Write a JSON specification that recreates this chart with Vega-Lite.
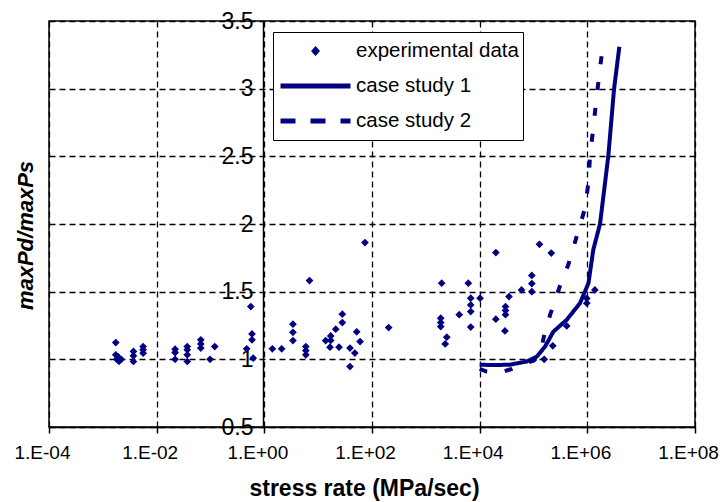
{
  "$schema": "https://vega.github.io/schema/vega-lite/v6.json",
  "width": 646,
  "height": 406,
  "autosize": {"type": "none"},
  "padding": {"left": 49, "top": 21, "right": 27, "bottom": 75},
  "background": "white",
  "config": {
    "font": "Liberation Sans",
    "view": {"stroke": "black", "strokeWidth": 1.5},
    "axis": {
      "gridColor": "black",
      "gridDash": [6, 4],
      "gridWidth": 1.3,
      "gridOpacity": 1,
      "domainColor": "black",
      "domainWidth": 1.5,
      "tickColor": "black",
      "labelColor": "black",
      "titleColor": "black",
      "labelFont": "Liberation Sans",
      "titleFont": "Liberation Sans"
    }
  },
  "data": {
    "values": [
      {"series": "experimental data", "x": 0.00174, "y": 1.124},
      {"series": "experimental data", "x": 0.00174, "y": 1.033},
      {"series": "experimental data", "x": 0.00195, "y": 1.016},
      {"series": "experimental data", "x": 0.00182, "y": 1.0},
      {"series": "experimental data", "x": 0.00219, "y": 1.0},
      {"series": "experimental data", "x": 0.002, "y": 0.985},
      {"series": "experimental data", "x": 0.0037, "y": 1.058},
      {"series": "experimental data", "x": 0.0037, "y": 1.026},
      {"series": "experimental data", "x": 0.0037, "y": 0.984},
      {"series": "experimental data", "x": 0.0056, "y": 1.094},
      {"series": "experimental data", "x": 0.0056, "y": 1.07},
      {"series": "experimental data", "x": 0.0056, "y": 1.045},
      {"series": "experimental data", "x": 0.022, "y": 1.075},
      {"series": "experimental data", "x": 0.022, "y": 1.05},
      {"series": "experimental data", "x": 0.022, "y": 1.0},
      {"series": "experimental data", "x": 0.037, "y": 1.094},
      {"series": "experimental data", "x": 0.037, "y": 1.07},
      {"series": "experimental data", "x": 0.037, "y": 1.033},
      {"series": "experimental data", "x": 0.037, "y": 0.984},
      {"series": "experimental data", "x": 0.066, "y": 1.144},
      {"series": "experimental data", "x": 0.066, "y": 1.114},
      {"series": "experimental data", "x": 0.066, "y": 1.083},
      {"series": "experimental data", "x": 0.098, "y": 1.0},
      {"series": "experimental data", "x": 0.12, "y": 1.094},
      {"series": "experimental data", "x": 0.47, "y": 1.078},
      {"series": "experimental data", "x": 0.56, "y": 1.39},
      {"series": "experimental data", "x": 0.59, "y": 1.188},
      {"series": "experimental data", "x": 0.59, "y": 1.144},
      {"series": "experimental data", "x": 0.62, "y": 1.009},
      {"series": "experimental data", "x": 1.41, "y": 1.078},
      {"series": "experimental data", "x": 2.1, "y": 1.078},
      {"series": "experimental data", "x": 3.4, "y": 1.26},
      {"series": "experimental data", "x": 3.4, "y": 1.2},
      {"series": "experimental data", "x": 3.4, "y": 1.139},
      {"series": "experimental data", "x": 6.9, "y": 1.582},
      {"series": "experimental data", "x": 5.9, "y": 1.094},
      {"series": "experimental data", "x": 5.9, "y": 1.065},
      {"series": "experimental data", "x": 5.9, "y": 1.033},
      {"series": "experimental data", "x": 13.8, "y": 1.139},
      {"series": "experimental data", "x": 17.1, "y": 1.173},
      {"series": "experimental data", "x": 17.1, "y": 1.14},
      {"series": "experimental data", "x": 16.6, "y": 1.09},
      {"series": "experimental data", "x": 21.2, "y": 1.223},
      {"series": "experimental data", "x": 24.4, "y": 1.09},
      {"series": "experimental data", "x": 28.1, "y": 1.334},
      {"series": "experimental data", "x": 28.1, "y": 1.272},
      {"series": "experimental data", "x": 39, "y": 1.083},
      {"series": "experimental data", "x": 39, "y": 0.947},
      {"series": "experimental data", "x": 48, "y": 1.046},
      {"series": "experimental data", "x": 52, "y": 1.203},
      {"series": "experimental data", "x": 60, "y": 1.131},
      {"series": "experimental data", "x": 74, "y": 1.863},
      {"series": "experimental data", "x": 204, "y": 1.235},
      {"series": "experimental data", "x": 1970, "y": 1.563},
      {"series": "experimental data", "x": 1890, "y": 1.304},
      {"series": "experimental data", "x": 1890, "y": 1.272},
      {"series": "experimental data", "x": 1890, "y": 1.242},
      {"series": "experimental data", "x": 2450, "y": 1.164},
      {"series": "experimental data", "x": 2290, "y": 1.114},
      {"series": "experimental data", "x": 4170, "y": 1.33},
      {"series": "experimental data", "x": 6150, "y": 1.563},
      {"series": "experimental data", "x": 6820, "y": 1.452},
      {"series": "experimental data", "x": 6820, "y": 1.402},
      {"series": "experimental data", "x": 6820, "y": 1.353},
      {"series": "experimental data", "x": 6820, "y": 1.238},
      {"series": "experimental data", "x": 10160, "y": 1.452},
      {"series": "experimental data", "x": 20000, "y": 1.789},
      {"series": "experimental data", "x": 20000, "y": 1.297},
      {"series": "experimental data", "x": 30200, "y": 1.39},
      {"series": "experimental data", "x": 30200, "y": 1.36},
      {"series": "experimental data", "x": 30200, "y": 1.33},
      {"series": "experimental data", "x": 29500, "y": 1.21},
      {"series": "experimental data", "x": 35000, "y": 1.464},
      {"series": "experimental data", "x": 60000, "y": 1.513},
      {"series": "experimental data", "x": 93000, "y": 1.62},
      {"series": "experimental data", "x": 93000, "y": 1.56},
      {"series": "experimental data", "x": 93000, "y": 1.5},
      {"series": "experimental data", "x": 129000, "y": 1.85},
      {"series": "experimental data", "x": 214000, "y": 1.785},
      {"series": "experimental data", "x": 228000, "y": 1.1},
      {"series": "experimental data", "x": 158000, "y": 1.0},
      {"series": "experimental data", "x": 414000, "y": 1.247},
      {"series": "experimental data", "x": 977000, "y": 1.45},
      {"series": "experimental data", "x": 977000, "y": 1.415},
      {"series": "experimental data", "x": 1380000, "y": 1.513},
      {"series": "case study 1", "x": 10000, "y": 0.96},
      {"series": "case study 1", "x": 18000, "y": 0.958},
      {"series": "case study 1", "x": 36000, "y": 0.96},
      {"series": "case study 1", "x": 75000, "y": 0.984},
      {"series": "case study 1", "x": 115000, "y": 1.02},
      {"series": "case study 1", "x": 164000, "y": 1.094},
      {"series": "case study 1", "x": 234000, "y": 1.205},
      {"series": "case study 1", "x": 414000, "y": 1.292},
      {"series": "case study 1", "x": 731000, "y": 1.415},
      {"series": "case study 1", "x": 1050000, "y": 1.563},
      {"series": "case study 1", "x": 1290000, "y": 1.81},
      {"series": "case study 1", "x": 1720000, "y": 2.0},
      {"series": "case study 1", "x": 2450000, "y": 2.5},
      {"series": "case study 1", "x": 3140000, "y": 3.0},
      {"series": "case study 1", "x": 3930000, "y": 3.31},
      {"series": "case study 2", "x": 10000, "y": 0.93},
      {"series": "case study 2", "x": 13500, "y": 0.91},
      {"series": "case study 2", "x": 22400, "y": 0.898},
      {"series": "case study 2", "x": 40000, "y": 0.93},
      {"series": "case study 2", "x": 63000, "y": 0.965},
      {"series": "case study 2", "x": 100000, "y": 0.99},
      {"series": "case study 2", "x": 132000, "y": 1.03},
      {"series": "case study 2", "x": 162000, "y": 1.2},
      {"series": "case study 2", "x": 204000, "y": 1.33},
      {"series": "case study 2", "x": 309000, "y": 1.54},
      {"series": "case study 2", "x": 444000, "y": 1.7},
      {"series": "case study 2", "x": 906000, "y": 2.117},
      {"series": "case study 2", "x": 1050000, "y": 2.31},
      {"series": "case study 2", "x": 1120000, "y": 2.5},
      {"series": "case study 2", "x": 1290000, "y": 2.71},
      {"series": "case study 2", "x": 1480000, "y": 2.93},
      {"series": "case study 2", "x": 1720000, "y": 3.15},
      {"series": "case study 2", "x": 2000000, "y": 3.355}
    ]
  },
  "encoding": {
    "x": {
      "field": "x",
      "type": "quantitative",
      "scale": {"type": "log", "domain": [0.0001, 100000000], "nice": false},
      "axis": {
        "values": [0.0001, 0.01, 1, 100, 10000, 1000000, 100000000],
        "labelExpr": "'1.E' + (datum.value < 1 ? '-' : '+') + format(abs(round(log(datum.value) / LN10)), '02d')",
        "labelFontSize": 19,
        "labelPadding": 10,
        "labelOffset": -7,
        "tickSize": 6,
        "tickWidth": 1.5,
        "grid": true,
        "labelFlush": false,
        "labelOverlap": false,
        "labelBound": false,
        "title": "stress rate (MPa/sec)",
        "titleFontSize": 23,
        "titleFontWeight": "bold",
        "titlePadding": 15,
        "titleX": 315
      }
    },
    "y": {
      "field": "y",
      "type": "quantitative",
      "scale": {"domain": [0.5, 3.5], "nice": false, "zero": false},
      "axis": {
        "offset": -214,
        "values": [0.5, 1, 1.5, 2, 2.5, 3, 3.5],
        "labelExpr": "'' + datum.value",
        "labelFontSize": 23,
        "labelPadding": 10,
        "ticks": false,
        "grid": true,
        "labelFlush": false,
        "labelOverlap": false,
        "title": "maxPd/maxPs",
        "titleFontSize": 22,
        "titleFontWeight": "bold",
        "titleFontStyle": "italic",
        "titleAngle": -90,
        "titleX": -231,
        "titleY": 214,
        "titleAlign": "center",
        "titleBaseline": "alphabetic"
      }
    },
    "color": {
      "field": "series",
      "type": "nominal",
      "scale": {"domain": ["experimental data", "case study 1", "case study 2"], "range": ["#000080", "#000080", "#000080"]},
      "legend": {
        "orient": "none",
        "legendX": 224,
        "legendY": 11,
        "title": null,
        "direction": "vertical",
        "fillColor": "white",
        "strokeColor": "black",
        "padding": 4,
        "clipHeight": 30,
        "rowPadding": 5,
        "symbolType": "stroke",
        "symbolSize": 4900,
        "symbolStrokeWidth": 5,
        "symbolOffset": 1,
        "labelOffset": 3,
        "labelLimit": 300,
        "labelFontSize": 20.5,
        "labelColor": "black",
        "labelFont": "Liberation Sans",
        "encode": {
          "symbols": {
            "update": {
              "shape": {"signal": "datum.value === 'experimental data' ? 'M0,-0.036L0.032,0L0,0.036L-0.032,0Z' : 'stroke'"},
              "fill": {"signal": "datum.value === 'experimental data' ? '#000080' : 'transparent'"},
              "stroke": {"signal": "datum.value === 'experimental data' ? 'transparent' : '#000080'"},
              "strokeDash": {"signal": "datum.value === 'case study 2' ? [15, 15] : [1, 0]"},
              "opacity": {"value": 1}
            }
          }
        }
      }
    }
  },
  "layer": [
    {
      "transform": [{"filter": "datum.series === 'experimental data'"}],
      "mark": {"type": "point", "shape": "diamond", "filled": true, "size": 60, "opacity": 1}
    },
    {
      "transform": [{"filter": "datum.series !== 'experimental data'"}],
      "mark": {"type": "line", "strokeWidth": 4, "strokeCap": "butt"},
      "encoding": {
        "strokeDash": {
          "field": "series",
          "type": "nominal",
          "scale": {"domain": ["case study 1", "case study 2"], "range": [[1, 0], [8, 18]]},
          "legend": null
        },
        "order": {"field": "x", "type": "quantitative"}
      }
    }
  ]
}
